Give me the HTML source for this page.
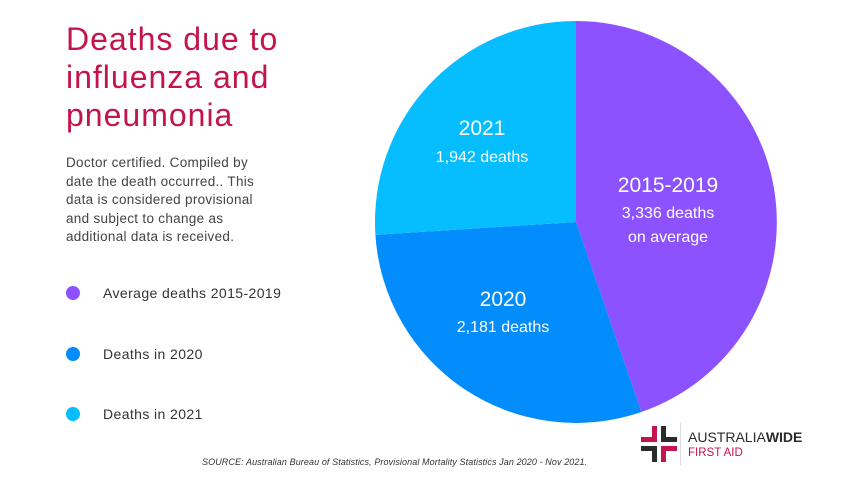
<!DOCTYPE html>
<html><head><meta charset="utf-8"><style>
body{margin:0;width:854px;height:480px;background:#fff;position:relative;overflow:hidden;font-family:"Liberation Sans",sans-serif}
.a{position:absolute;white-space:nowrap}
</style></head><body>
<div class="a" style="left:66px;top:20px;font-size:32px;line-height:38px;color:#c4154a;letter-spacing:1px">Deaths due to<br>influenza and<br>pneumonia</div>
<div class="a" style="left:66px;top:154px;font-size:13.5px;line-height:18.5px;color:#444;letter-spacing:0.3px">Doctor certified. Compiled by<br>date the death occurred.. This<br>data is considered provisional<br>and subject to change as<br>additional data is received.</div>
<div class="a" style="left:66px;top:286px;width:14px;height:14px;border-radius:50%;background:#8c52ff"></div>
<div class="a" style="left:103px;top:285px;font-size:14px;color:#333;letter-spacing:0.4px">Average deaths 2015-2019</div>
<div class="a" style="left:66px;top:347px;width:14px;height:14px;border-radius:50%;background:#038cfc"></div>
<div class="a" style="left:103px;top:346px;font-size:14px;color:#333;letter-spacing:0.4px">Deaths in 2020</div>
<div class="a" style="left:66px;top:407px;width:14px;height:14px;border-radius:50%;background:#05bdff"></div>
<div class="a" style="left:103px;top:406px;font-size:14px;color:#333;letter-spacing:0.4px">Deaths in 2021</div>
<svg class="a" style="left:0;top:0" width="854" height="480">
<path d="M576,222 L576,21 A201,201 0 0 1 641.4,412 Z" fill="#8c52ff"/>
<path d="M576,222 L641.4,412 A201,201 0 0 1 375.4,234.9 Z" fill="#038cfc"/>
<path d="M576,222 L375.4,234.9 A201,201 0 0 1 576,21 Z" fill="#05bdff"/>
<g fill="#fff" font-family="Liberation Sans,sans-serif" text-anchor="middle">
<text x="482" y="135" font-size="21">2021</text>
<text x="482" y="162" font-size="16">1,942 deaths</text>
<text x="668" y="192" font-size="21">2015-2019</text>
<text x="668" y="218" font-size="16">3,336 deaths</text>
<text x="668" y="242" font-size="16">on average</text>
<text x="503" y="306" font-size="21">2020</text>
<text x="503" y="332" font-size="16">2,181 deaths</text>
</g>
<g>
<path d="M652,426h5v16h-16v-5h11z" fill="#c4154a"/>
<path d="M661,426h5v11h11v5h-16z" fill="#2b2b2b"/>
<path d="M641,446h16v16h-5v-11h-11z" fill="#2b2b2b"/>
<path d="M661,446h16v5h-11v11h-5z" fill="#c4154a"/>
<rect x="680" y="423" width="1" height="42" fill="#ddd"/>
<text x="688" y="442" font-size="14" fill="#2b2b2b" font-family="Liberation Sans,sans-serif">AUSTRALIA<tspan font-weight="bold">WIDE</tspan></text>
<text x="688" y="456" font-size="11.5" fill="#c4154a" font-family="Liberation Sans,sans-serif">FIRST AID</text>
</g>
</svg>
<div class="a" style="left:202px;top:457px;font-size:9px;font-style:italic;color:#333;letter-spacing:0.1px">SOURCE: Australian Bureau of Statistics, Provisional Mortality Statistics Jan 2020 - Nov 2021.</div>
</body></html>
